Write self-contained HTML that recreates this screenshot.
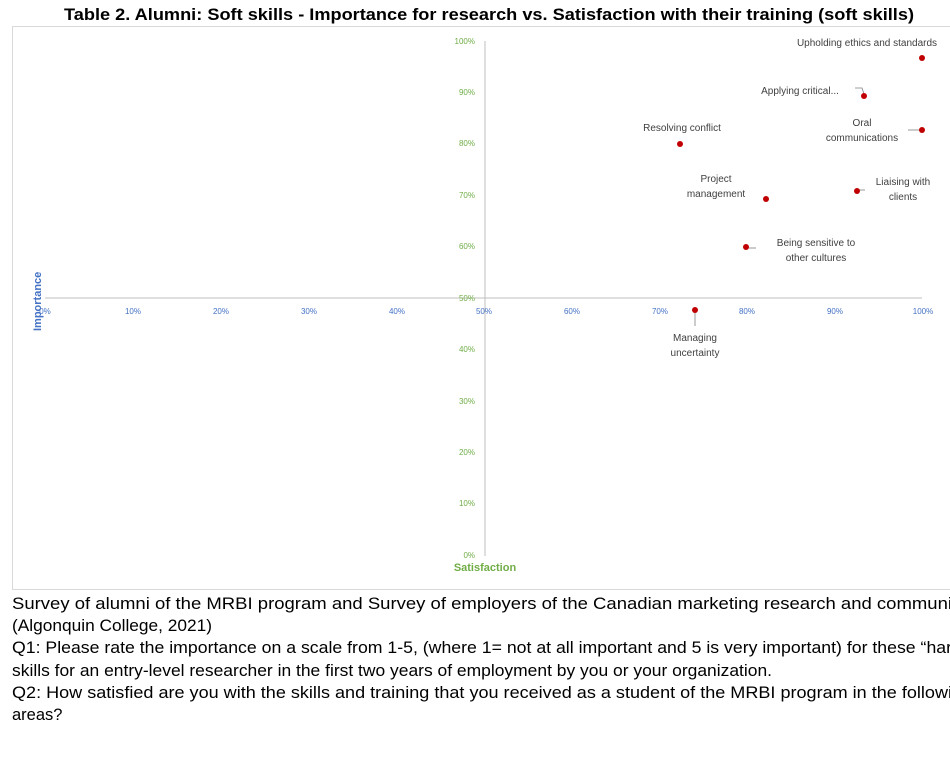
<!DOCTYPE html>
<html><head><meta charset="utf-8"><style>body{margin:0;background:#fff}svg{display:block}</style></head>
<body>
<svg width="950" height="775" xmlns="http://www.w3.org/2000/svg" font-family="Liberation Sans, sans-serif">
<text x="489" y="20" text-anchor="middle" font-size="16.5" font-weight="bold" fill="#000" textLength="850" lengthAdjust="spacingAndGlyphs">Table 2. Alumni: Soft skills - Importance for research vs. Satisfaction with their training (soft skills)</text>
<rect x="12.5" y="26.5" width="945" height="563" fill="#fff" stroke="#d9d9d9"/>
<line x1="45" y1="298" x2="922" y2="298" stroke="#bfbfbf"/>
<line x1="485" y1="41" x2="485" y2="556" stroke="#bfbfbf"/>
<g font-size="8" fill="#4472c4" text-anchor="middle">
<text x="45" y="314">0%</text><text x="133" y="314">10%</text><text x="221" y="314">20%</text><text x="309" y="314">30%</text><text x="397" y="314">40%</text><text x="484" y="314">50%</text><text x="572" y="314">60%</text><text x="660" y="314">70%</text><text x="747" y="314">80%</text><text x="835" y="314">90%</text><text x="923" y="314">100%</text>
</g>
<g font-size="8" fill="#70ad47" text-anchor="end">
<text x="475" y="44">100%</text><text x="475" y="95">90%</text><text x="475" y="146">80%</text><text x="475" y="198">70%</text><text x="475" y="249">60%</text><text x="475" y="301">50%</text><text x="475" y="352">40%</text><text x="475" y="404">30%</text><text x="475" y="455">20%</text><text x="475" y="506">10%</text><text x="475" y="558">0%</text>
</g>
<text x="485" y="571" text-anchor="middle" font-size="11" font-weight="bold" fill="#70ad47">Satisfaction</text>
<text transform="translate(41,331) rotate(-90)" font-size="11" font-weight="bold" fill="#4472c4">Importance</text>
<g stroke="#808080" stroke-width="0.8" fill="none">
<path d="M855 88 H862 L864 94"/><path d="M908 130 H920"/><path d="M859 190 H865"/><path d="M748 248 H756"/><path d="M695 312 V326"/>
</g>
<g fill="#c00000">
<circle cx="922" cy="58" r="3"/><circle cx="864" cy="96" r="3"/><circle cx="922" cy="130" r="3"/><circle cx="680" cy="144" r="3"/><circle cx="766" cy="199" r="3"/><circle cx="857" cy="191" r="3"/><circle cx="746" cy="247" r="3"/><circle cx="695" cy="310" r="3"/>
</g>
<g font-size="10" fill="#404040" text-anchor="middle">
<text x="867" y="46">Upholding ethics and standards</text>
<text x="800" y="94">Applying critical...</text>
<text x="862" y="126">Oral</text><text x="862" y="141">communications</text>
<text x="682" y="131">Resolving conflict</text>
<text x="716" y="182">Project</text><text x="716" y="197">management</text>
<text x="903" y="185">Liaising with</text><text x="903" y="200">clients</text>
<text x="816" y="246">Being sensitive to</text><text x="816" y="261">other cultures</text>
<text x="695" y="341">Managing</text><text x="695" y="356">uncertainty</text>
</g>
<g font-size="16.5" fill="#000" lengthAdjust="spacingAndGlyphs">
<text x="12" y="609" textLength="940" lengthAdjust="spacingAndGlyphs">Survey of alumni of the MRBI program and Survey of employers of the Canadian marketing research and communi</text>
<text x="12" y="631" textLength="200" lengthAdjust="spacingAndGlyphs">(Algonquin College, 2021)</text>
<text x="12" y="653" textLength="940" lengthAdjust="spacingAndGlyphs">Q1: Please rate the importance on a scale from 1-5, (where 1= not at all important and 5 is very important) for these “har</text>
<text x="12" y="676" textLength="760" lengthAdjust="spacingAndGlyphs">skills for an entry-level researcher in the first two years of employment by you or your organization.</text>
<text x="12" y="698" textLength="940" lengthAdjust="spacingAndGlyphs">Q2: How satisfied are you with the skills and training that you received as a student of the MRBI program in the followi</text>
<text x="12" y="720">areas?</text>
</g>
</svg>
</body></html>
